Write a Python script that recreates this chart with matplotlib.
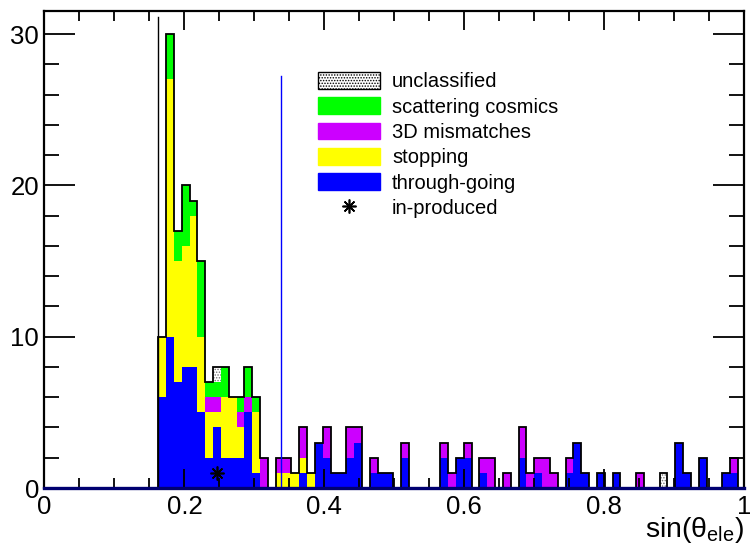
import numpy as np
import matplotlib.pyplot as plt
from matplotlib.patches import Patch
from matplotlib.lines import Line2D
from matplotlib.ticker import MultipleLocator

plt.rcParams['font.family'] = ['Liberation Sans', 'DejaVu Sans']
plt.rcParams['mathtext.fontset'] = 'custom'
plt.rcParams['mathtext.rm'] = 'Liberation Sans'
plt.rcParams['mathtext.it'] = 'Liberation Sans'
plt.rcParams['hatch.linewidth'] = 0.7

# histogram range (74 bins)
x_lo, x_hi = 0.1627, 0.9914

# counts per bin, bottom of the stack first
through = [6, 10, 7, 8, 8, 5, 2, 4, 2, 2, 2, 5, 1, 0, 0, 0, 0, 0, 1, 0,
           3, 2, 1, 1, 2, 3, 0, 1, 1, 1, 0, 2, 0, 0, 0, 0, 2, 0, 2, 2,
           0, 1, 0, 0, 0, 0, 2, 0, 1, 0, 0, 0, 1, 3, 1, 0, 1, 0, 1, 0,
           0, 0, 0, 0, 0, 0, 3, 1, 0, 2, 0, 0, 1, 1]
stopping = [4, 17, 8, 8, 10, 5, 3, 1, 4, 4, 2, 0, 4, 0, 0, 1, 1, 1, 1, 1,
            0, 0, 0, 0, 0, 0, 0, 0, 0, 0, 0, 0, 0, 0, 0, 0, 0, 0, 0, 0,
            0, 0, 0, 0, 0, 0, 0, 0, 0, 0, 0, 0, 0, 0, 0, 0, 0, 0, 0, 0,
            0, 0, 0, 0, 0, 0, 0, 0, 0, 0, 0, 0, 0, 0]
mismatch = [0, 0, 0, 0, 0, 0, 1, 1, 0, 0, 1, 1, 0, 2, 0, 1, 1, 0, 2, 0,
            0, 2, 0, 0, 2, 1, 0, 1, 0, 0, 0, 1, 0, 0, 0, 0, 1, 1, 0, 1,
            0, 1, 2, 0, 1, 0, 2, 1, 1, 2, 1, 0, 1, 0, 0, 0, 0, 0, 0, 0,
            0, 1, 0, 0, 0, 0, 0, 0, 0, 0, 0, 0, 0, 1]
scattering = [0, 3, 2, 4, 1, 5, 1, 1, 2, 0, 1, 2, 1, 0, 0, 0, 0, 0, 0, 0,
              0, 0, 0, 0, 0, 0, 0, 0, 0, 0, 0, 0, 0, 0, 0, 0, 0, 0, 0, 0,
              0, 0, 0, 0, 0, 0, 0, 0, 0, 0, 0, 0, 0, 0, 0, 0, 0, 0, 0, 0,
              0, 0, 0, 0, 0, 0, 0, 0, 0, 0, 0, 0, 0, 0]
unclassified = [0, 0, 0, 0, 0, 0, 0, 1, 0, 0, 0, 0, 0, 0, 0, 0, 0, 0, 0, 0,
                0, 0, 0, 0, 0, 0, 0, 0, 0, 0, 0, 0, 0, 0, 0, 0, 0, 0, 0, 0,
                0, 0, 0, 0, 0, 0, 0, 0, 0, 0, 0, 0, 0, 0, 0, 0, 0, 0, 0, 0,
                0, 0, 0, 0, 1, 0, 0, 0, 0, 0, 0, 0, 0, 0]
in_produced = [0, 0, 0, 0, 0, 0, 0, 1, 0, 0, 0, 0, 0, 0, 0, 0, 0, 0, 0, 0,
               0, 0, 0, 0, 0, 0, 0, 0, 0, 0, 0, 0, 0, 0, 0, 0, 0, 0, 0, 0,
               0, 0, 0, 0, 0, 0, 0, 0, 0, 0, 0, 0, 0, 0, 0, 0, 0, 0, 0, 0,
               0, 0, 0, 0, 0, 0, 0, 0, 0, 0, 0, 0, 0, 0]

# cut lines (x, height)
cut_black = (0.1627, 31.1)
cut_blue = (0.338, 27.2)

edges = np.linspace(x_lo, x_hi, len(through) + 1)
centers = 0.5 * (edges[:-1] + edges[1:])

fig = plt.figure(figsize=(7.5, 5.5), dpi=100)
ax = fig.add_axes([0.0593, 0.1127, 0.9327, 0.8666])

layers = [
    (through, '#0000ff'),
    (stopping, '#ffff00'),
    (mismatch, '#cc00ff'),
    (scattering, '#00ff00'),
]
bottom = np.zeros(len(through))
for vals, col in layers:
    top = bottom + np.array(vals)
    ax.stairs(top, edges, baseline=bottom, fill=True, color=col, linewidth=0)
    bottom = top
top = bottom + np.array(unclassified)
ax.stairs(top, edges, baseline=bottom, fill=True, facecolor='white',
          edgecolor='0.45', hatch='......', linewidth=0)
ax.stairs(top, edges, color='black', linewidth=1.3)

# in-produced markers
ip = np.array(in_produced)
ax.plot(centers[ip > 0], ip[ip > 0], ls='none', marker=(8, 2, 0),
        color='black', ms=10, mew=1.2)

ax.plot([cut_black[0]] * 2, [0, cut_black[1]], color='black', lw=1)
ax.plot([cut_blue[0]] * 2, [0, cut_blue[1]], color='#0000ff', lw=1)

ax.set_xlim(0, 1)
ax.set_ylim(0, 31.5)
ax.xaxis.set_major_locator(MultipleLocator(0.2))
ax.xaxis.set_minor_locator(MultipleLocator(0.05))
ax.yaxis.set_major_locator(MultipleLocator(10))
ax.yaxis.set_minor_locator(MultipleLocator(2))
ax.xaxis.set_major_formatter(plt.FuncFormatter(lambda v, p: '%g' % v))
ax.tick_params(which='both', direction='in', top=True, right=True,
               labelsize=18.5, width=1.3)
ax.tick_params(axis='x', which='major', length=14, pad=5)
ax.tick_params(axis='x', which='minor', length=7)
ax.tick_params(axis='y', which='major', length=22, pad=4)
ax.tick_params(axis='y', which='minor', length=11)
for s in ax.spines.values():
    s.set_linewidth(1.6)
ax.spines['bottom'].set_color('#000070')
ax.spines['bottom'].set_linewidth(2.4)

ax.set_xlabel(r'sin($\theta_{ele}$)', loc='right', fontsize=20.5, labelpad=-3)

handles = [
    Patch(facecolor='white', edgecolor='black', hatch='......', lw=1),
    Patch(facecolor='#00ff00', edgecolor='#00ff00'),
    Patch(facecolor='#cc00ff', edgecolor='#cc00ff'),
    Patch(facecolor='#ffff00', edgecolor='#ffff00'),
    Patch(facecolor='#0000ff', edgecolor='#0000ff'),
    Line2D([], [], ls='none', marker=(8, 2, 0), color='black', ms=10, mew=1.2),
]
labels = ['unclassified', 'scattering cosmics', '3D mismatches', 'stopping',
          'through-going', 'in-produced']
fig.legend(handles, labels, loc='upper left', bbox_to_anchor=(0.424, 0.869),
           frameon=False, fontsize=14.5, handlelength=3.08, handleheight=0.9,
           handletextpad=0.6, labelspacing=0.3, borderpad=0, borderaxespad=0)

fig.savefig('out.png', dpi=100)
